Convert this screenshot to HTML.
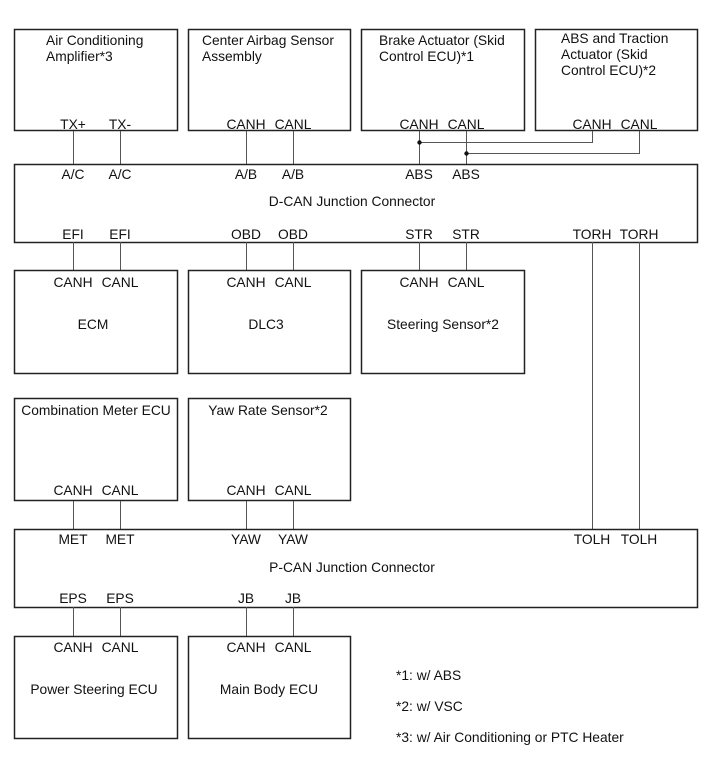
<!DOCTYPE html>
<html><head><meta charset="utf-8"><style>
html,body{margin:0;padding:0;background:#fff;}
svg{display:block;}
text{font-family:"Liberation Sans",Arial,sans-serif;font-size:13.8px;fill:#111;}
.b{fill:none;stroke:#222;stroke-width:1.5;}
.w{stroke:#555;stroke-width:1;fill:none;}
</style></head><body>
<svg width="713" height="782" viewBox="0 0 713 782" xmlns="http://www.w3.org/2000/svg">
<rect class="b" x="14.5" y="29.5" width="163" height="101"/>
<rect class="b" x="188.5" y="29.5" width="162" height="101"/>
<rect class="b" x="361.5" y="29.5" width="163" height="101"/>
<rect class="b" x="535.5" y="29.5" width="162" height="101"/>
<text x="46" y="45">Air Conditioning</text>
<text x="46" y="61">Amplifier*3</text>
<text x="202" y="45">Center Airbag Sensor</text>
<text x="202" y="61">Assembly</text>
<text x="379" y="45">Brake Actuator (Skid</text>
<text x="379" y="61">Control ECU)*1</text>
<text x="561" y="43">ABS and Traction</text>
<text x="561" y="59">Actuator (Skid</text>
<text x="561" y="75">Control ECU)*2</text>
<text x="73" y="129" text-anchor="middle">TX+</text>
<text x="120" y="129" text-anchor="middle">TX-</text>
<text x="246" y="129" text-anchor="middle">CANH</text>
<text x="293" y="129" text-anchor="middle">CANL</text>
<text x="419" y="129" text-anchor="middle">CANH</text>
<text x="466" y="129" text-anchor="middle">CANL</text>
<text x="592" y="129" text-anchor="middle">CANH</text>
<text x="639" y="129" text-anchor="middle">CANL</text>
<path class="w" d="M73.5 131V164M120.5 131V164M246.5 131V164M293.5 131V164M419.5 131V164M466.5 131V164"/>
<path class="w" d="M419.5 142.5H592.5V131M466.5 153.5H639.5V131"/>
<circle cx="419.5" cy="142.5" r="2.2" fill="#111"/>
<circle cx="466.5" cy="153.5" r="2.2" fill="#111"/>
<rect class="b" x="14.5" y="164.5" width="683" height="78"/>
<text x="73" y="179" text-anchor="middle">A/C</text>
<text x="120" y="179" text-anchor="middle">A/C</text>
<text x="246" y="179" text-anchor="middle">A/B</text>
<text x="293" y="179" text-anchor="middle">A/B</text>
<text x="419" y="179" text-anchor="middle">ABS</text>
<text x="466" y="179" text-anchor="middle">ABS</text>
<text x="352" y="206" text-anchor="middle">D-CAN Junction Connector</text>
<text x="73" y="239" text-anchor="middle">EFI</text>
<text x="120" y="239" text-anchor="middle">EFI</text>
<text x="246" y="239" text-anchor="middle">OBD</text>
<text x="293" y="239" text-anchor="middle">OBD</text>
<text x="419" y="239" text-anchor="middle">STR</text>
<text x="466" y="239" text-anchor="middle">STR</text>
<text x="592" y="239" text-anchor="middle">TORH</text>
<text x="639" y="239" text-anchor="middle">TORH</text>
<path class="w" d="M73.5 242V270M120.5 242V270M246.5 242V270M293.5 242V270M419.5 242V270M466.5 242V270M592.5 242V529M639.5 242V529"/>
<rect class="b" x="14.5" y="270.5" width="163" height="103"/>
<rect class="b" x="188.5" y="270.5" width="162" height="103"/>
<rect class="b" x="361.5" y="270.5" width="163" height="103"/>
<text x="73" y="287" text-anchor="middle">CANH</text>
<text x="120" y="287" text-anchor="middle">CANL</text>
<text x="246" y="287" text-anchor="middle">CANH</text>
<text x="293" y="287" text-anchor="middle">CANL</text>
<text x="419" y="287" text-anchor="middle">CANH</text>
<text x="466" y="287" text-anchor="middle">CANL</text>
<text x="93" y="329" text-anchor="middle">ECM</text>
<text x="266" y="329" text-anchor="middle">DLC3</text>
<text x="443" y="329" text-anchor="middle">Steering Sensor*2</text>
<rect class="b" x="14.5" y="398.5" width="163" height="102"/>
<rect class="b" x="188.5" y="398.5" width="162" height="102"/>
<text x="96" y="415" text-anchor="middle">Combination Meter ECU</text>
<text x="268" y="415" text-anchor="middle">Yaw Rate Sensor*2</text>
<text x="73" y="495" text-anchor="middle">CANH</text>
<text x="120" y="495" text-anchor="middle">CANL</text>
<text x="246" y="495" text-anchor="middle">CANH</text>
<text x="293" y="495" text-anchor="middle">CANL</text>
<path class="w" d="M73.5 501V529M120.5 501V529M246.5 501V529M293.5 501V529"/>
<rect class="b" x="14.5" y="529.5" width="683" height="78"/>
<text x="73" y="544" text-anchor="middle">MET</text>
<text x="120" y="544" text-anchor="middle">MET</text>
<text x="246" y="544" text-anchor="middle">YAW</text>
<text x="293" y="544" text-anchor="middle">YAW</text>
<text x="592" y="544" text-anchor="middle">TOLH</text>
<text x="639" y="544" text-anchor="middle">TOLH</text>
<text x="352" y="572" text-anchor="middle">P-CAN Junction Connector</text>
<text x="73" y="603" text-anchor="middle">EPS</text>
<text x="120" y="603" text-anchor="middle">EPS</text>
<text x="246" y="603" text-anchor="middle">JB</text>
<text x="293" y="603" text-anchor="middle">JB</text>
<path class="w" d="M73.5 607V636M120.5 607V636M246.5 607V636M293.5 607V636"/>
<rect class="b" x="14.5" y="636.5" width="163" height="102"/>
<rect class="b" x="188.5" y="636.5" width="162" height="102"/>
<text x="73" y="652" text-anchor="middle">CANH</text>
<text x="120" y="652" text-anchor="middle">CANL</text>
<text x="246" y="652" text-anchor="middle">CANH</text>
<text x="293" y="652" text-anchor="middle">CANL</text>
<text x="94" y="694" text-anchor="middle">Power Steering ECU</text>
<text x="269" y="694" text-anchor="middle">Main Body ECU</text>
<text x="396" y="680">*1: w/ ABS</text>
<text x="396" y="711">*2: w/ VSC</text>
<text x="396" y="742">*3: w/ Air Conditioning or PTC Heater</text>
</svg>
</body></html>
